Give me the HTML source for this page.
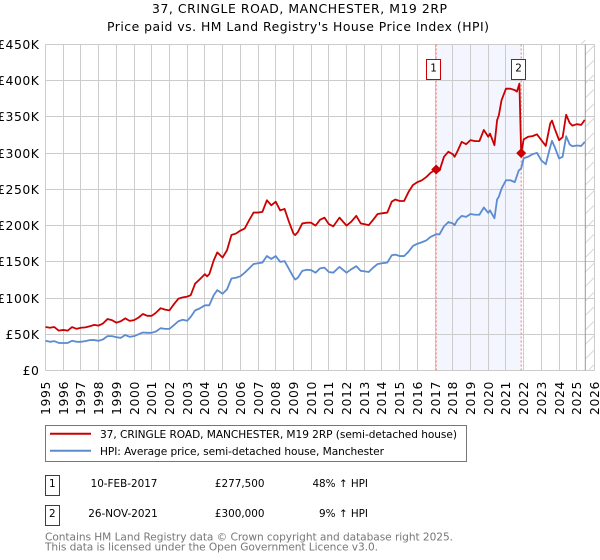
<!DOCTYPE html>
<html lang="en">
<head>
<meta charset="utf-8">
<title>37, Cringle Road price chart</title>
<style>
html,body{margin:0;padding:0;background:#fff;width:600px;height:560px;overflow:hidden}
svg{display:block;font-family:"DejaVu Sans","Liberation Sans",sans-serif}
</style>
</head>
<body>
<svg id="chart" width="600" height="560" viewBox="0 0 600 560" xmlns="http://www.w3.org/2000/svg">
  <text x="152" y="13" font-size="12.4" fill="#000" textLength="295" lengthAdjust="spacing">37, CRINGLE ROAD, MANCHESTER, M19 2RP</text>
  <text x="107" y="31" font-size="12.4" fill="#000" textLength="382" lengthAdjust="spacing">Price paid vs. HM Land Registry's House Price Index (HPI)</text>
  <g id="plot"></g>
  <g>
    <rect x="45.5" y="425.5" width="421" height="36" fill="#fff" stroke="#777" stroke-width="1"/>
    <line x1="50" x2="91" y1="433.7" y2="433.7" stroke="#cc0000" stroke-width="2"/>
    <text x="100" y="438" font-size="10.6" fill="#000" textLength="357" lengthAdjust="spacing">37, CRINGLE ROAD, MANCHESTER, M19 2RP (semi-detached house)</text>
    <line x1="50" x2="91" y1="450.8" y2="450.8" stroke="#5b8bd0" stroke-width="2"/>
    <text x="100" y="455" font-size="10.6" fill="#000" textLength="284" lengthAdjust="spacing">HPI: Average price, semi-detached house, Manchester</text>
  </g>
  <g font-size="10.4" fill="#000">
    <rect x="45.5" y="475.5" width="14" height="20" fill="#fff" stroke="#cc0000"/>
    <text x="52.3" y="487" text-anchor="middle">1</text>
    <text x="124" y="487" text-anchor="middle">10-FEB-2017</text>
    <text x="264.5" y="487" text-anchor="end">£277,500</text>
    <text x="368" y="487" text-anchor="end">48% ↑ HPI</text>
    <rect x="45.5" y="505.5" width="14" height="20" fill="#fff" stroke="#cc0000"/>
    <text x="52.3" y="517" text-anchor="middle">2</text>
    <text x="123" y="517" text-anchor="middle">26-NOV-2021</text>
    <text x="264.5" y="517" text-anchor="end">£300,000</text>
    <text x="368" y="517" text-anchor="end">9% ↑ HPI</text>
  </g>
  <text x="45" y="540.5" font-size="10.6" fill="#777" textLength="408" lengthAdjust="spacing">Contains HM Land Registry data © Crown copyright and database right 2025.</text>
  <text x="45" y="550.5" font-size="10.6" fill="#777" textLength="333" lengthAdjust="spacing">This data is licensed under the Open Government Licence v3.0.</text>
</svg>
<script>
const yearTicks = [1995,1996,1997,1998,1999,2000,2001,2002,2003,2004,2005,2006,2007,2008,2009,2010,2011,2012,2013,2014,2015,2016,2017,2018,2019,2020,2021,2022,2023,2024,2025,2026];
const valueTicks = [0,50,100,150,200,250,300,350,400,450];
const valueTickLabels = ['£0','£50K','£100K','£150K','£200K','£250K','£300K','£350K','£400K','£450K'];
const saleDates = [2017.06,2021.86];
const salePrices = [277.5,300];
const saleLabels = ['1','2'];
const forecastStart = 2025.48;
const priceDates = [1995,1995.25,1995.5,1995.75,1996,1996.25,1996.5,1996.75,1997,1997.25,1997.5,1997.75,1998,1998.25,1998.5,1998.75,1999,1999.25,1999.5,1999.75,2000,2000.25,2000.5,2000.75,2001,2001.25,2001.5,2001.75,2002,2002.25,2002.5,2002.75,2003,2003.2,2003.45,2003.7,2004,2004.12,2004.25,2004.5,2004.7,2005,2005.25,2005.5,2005.75,2006,2006.25,2006.5,2006.75,2007,2007.25,2007.5,2007.75,2008,2008.25,2008.5,2008.75,2009,2009.1,2009.25,2009.5,2009.75,2010,2010.25,2010.5,2010.75,2011,2011.25,2011.6,2012,2012.25,2012.55,2012.8,2013,2013.25,2013.5,2013.75,2014,2014.3,2014.55,2014.75,2015,2015.25,2015.5,2015.75,2016,2016.25,2016.5,2016.75,2017.06,2017.25,2017.5,2017.75,2018,2018.1,2018.25,2018.5,2018.75,2019,2019.25,2019.5,2019.75,2020,2020.1,2020.35,2020.5,2020.6,2020.75,2021,2021.25,2021.5,2021.62,2021.76,2021.86,2022,2022.25,2022.5,2022.75,2023,2023.25,2023.5,2023.6,2023.75,2024,2024.2,2024.4,2024.6,2024.75,2025,2025.25,2025.45];
const priceValues = [60,59,60,55,56,55,60,57.5,59,59.5,61,63,62,65,71,69.5,66,68,72,68.5,69.5,73,78,75.5,75.5,80,86,84,83,91.5,99,101,102,104,120,125.6,133,130,133,152,163,156,166,187,189,193,196,207.5,218,218,219,235,228,233,221,223,205,189,187,191,203,204,204,200,208,211,202,199,211,200,205,213.5,203,202,200.6,208,216,217,218,233,236,234,234,246.5,256,260,262.5,267,273,278,276,295,302,298.5,295,302,315.6,312.4,318,316.6,316.6,332,322.6,327,311,345.5,352.4,373,389,389,387,385,396,300,319,322.6,323.5,326,318,310,341,345,334,318,322,353,341.7,338,340,339,346];
const hpiDates = [1995,1995.25,1995.5,1995.75,1996,1996.25,1996.5,1996.75,1997,1997.25,1997.5,1997.75,1998,1998.25,1998.5,1998.75,1999,1999.25,1999.5,1999.75,2000,2000.25,2000.5,2000.75,2001,2001.25,2001.5,2001.75,2002,2002.25,2002.5,2002.75,2003,2003.2,2003.45,2003.7,2004,2004.25,2004.5,2004.7,2005,2005.25,2005.5,2005.75,2006,2006.25,2006.5,2006.75,2007,2007.25,2007.5,2007.75,2008,2008.25,2008.5,2008.75,2009,2009.1,2009.25,2009.5,2009.75,2010,2010.25,2010.5,2010.75,2011,2011.25,2011.6,2012,2012.25,2012.55,2012.8,2013,2013.25,2013.5,2013.75,2014,2014.3,2014.55,2014.75,2015,2015.25,2015.5,2015.75,2016,2016.25,2016.5,2016.75,2017.06,2017.25,2017.5,2017.75,2018,2018.1,2018.25,2018.5,2018.75,2019,2019.25,2019.5,2019.75,2020,2020.1,2020.35,2020.5,2020.6,2020.75,2021,2021.25,2021.5,2021.72,2021.86,2022,2022.25,2022.5,2022.75,2023,2023.25,2023.5,2023.6,2023.75,2024,2024.2,2024.4,2024.6,2024.75,2025,2025.25,2025.45];
const hpiValues = [41,39.6,40.5,38,38,38,41,39.6,39.6,40.5,42,42,41,43,47.4,47.4,46,45,49,46.5,47.4,50,52.5,52,52,54,58.4,57.5,57.5,62.6,68,70,68.6,74,83,85.6,90,90,104,111,106,112,127,128,130,135,141,147,148,149,158,154,158,150,151,140,129,125.6,128,137.6,139,138.5,135,141,142,136,135,143,135,139.5,144,137.6,137,136,142,147,148,149,159,160,158,158,164,172,175,177,179.5,184.5,188,188,199,205,203,200.6,207.5,213.5,212,216,215,215,225,217.7,221,210,236,240,251,262.6,262.6,260,276,279,293,295,298.6,300.4,290,284.7,308.7,317,308.7,292.7,295,323.4,312,309.6,310.6,310,315.6];

const NS = 'http://www.w3.org/2000/svg';
const plot = document.getElementById('plot');
const left = 45.5, right = 594.5, top0 = 44.5, bottom = 370.5;
const xScale = d => left + (d - 1995) * (right - left) / 31;
const yScale = v => bottom - v * (bottom - top0) / 450;
function make(tag, attrs, parent) {
  const el = document.createElementNS(NS, tag);
  for (const k in attrs) el.setAttribute(k, attrs[k]);
  (parent || plot).appendChild(el);
  return el;
}

const shade = make('rect', {x: xScale(saleDates[0]), y: top0, width: xScale(saleDates[1]) - xScale(saleDates[0]), height: bottom - top0, fill: '#f3f6fe'});



valueTicks.forEach((v, i) => {
  const y = Math.round(yScale(v) - 0.5) + 0.5;
  const g = make('line', {x1: left, x2: right, y1: y, y2: y, stroke: '#ccc', 'stroke-width': 1});
  
  
  const t = make('text', {x: 39.5, y: y + 4.5, 'font-size': 12.4, 'letter-spacing': 0.55, 'text-anchor': 'end', fill: '#000'});
  
  
  t.textContent = valueTickLabels[i];
});
yearTicks.forEach(yr => {
  const x = Math.round(xScale(yr) - 0.5) + 0.5;
  const g = make('line', {x1: x, x2: x, y1: top0, y2: bottom, stroke: '#ccc', 'stroke-width': 1});
  
  
  const t = make('text', {transform: 'translate(' + (x + 4.5) + ',415) rotate(-90)', 'font-size': 12.4, 'letter-spacing': 0.6, fill: '#000'});
  
  
  t.textContent = yr;
});

const fx = xScale(forecastStart);
for (let y = bottom + 3; y > top0 - 10; y -= 14.5) {
  const y1 = Math.min(y, bottom), x1 = fx + (y - y1);
  const y2 = Math.max(y - (right - fx), top0), x2 = fx + (y - y2);
  const h = make('line', {x1: x1, y1: y1, x2: x2, y2: y2, stroke: '#d8d8d8', 'stroke-width': 1});
  
  
}
const cut = make('line', {x1: fx, x2: fx, y1: top0, y2: bottom, stroke: '#999', 'stroke-width': 1});



saleDates.forEach(d => {
  const x = xScale(d);
  const l = make('line', {x1: x, x2: x, y1: top0, y2: bottom, stroke: '#ff7070', 'stroke-width': 1, 'stroke-dasharray': '2 2'});
  
  
});

function pathFrom(dates, values) {
  return dates.map((d, i) => (i ? 'L' : 'M') + xScale(d).toFixed(2) + ' ' + yScale(values[i]).toFixed(2)).join('');
}
const hpiLine = make('path', {d: pathFrom(hpiDates, hpiValues), fill: 'none', stroke: '#5b8bd0', 'stroke-width': 1.8, 'stroke-linejoin': 'round'});


const priceLine = make('path', {d: pathFrom(priceDates, priceValues), fill: 'none', stroke: '#cc0000', 'stroke-width': 1.8, 'stroke-linejoin': 'round'});



saleDates.forEach((d, i) => {
  const cx = xScale(d), cy = yScale(salePrices[i]), r = 5;
  const m = make('polygon', {points: [[cx - r, cy], [cx, cy - r], [cx + r, cy], [cx, cy + r]].map(p => p.join(',')).join(' '), fill: '#cc0000'});
  
  
  const bx = Math.round(cx) - 9.5;
  const b = make('rect', {x: bx, y: 59.5, width: 14, height: 20, fill: '#fff', stroke: '#cc0000'});
  
  
  const t = make('text', {x: bx + 7, y: 71.5, 'font-size': 10.4, 'text-anchor': 'middle', fill: '#000'});
  
  
  t.textContent = saleLabels[i];
});
</script>
</body>
</html>
